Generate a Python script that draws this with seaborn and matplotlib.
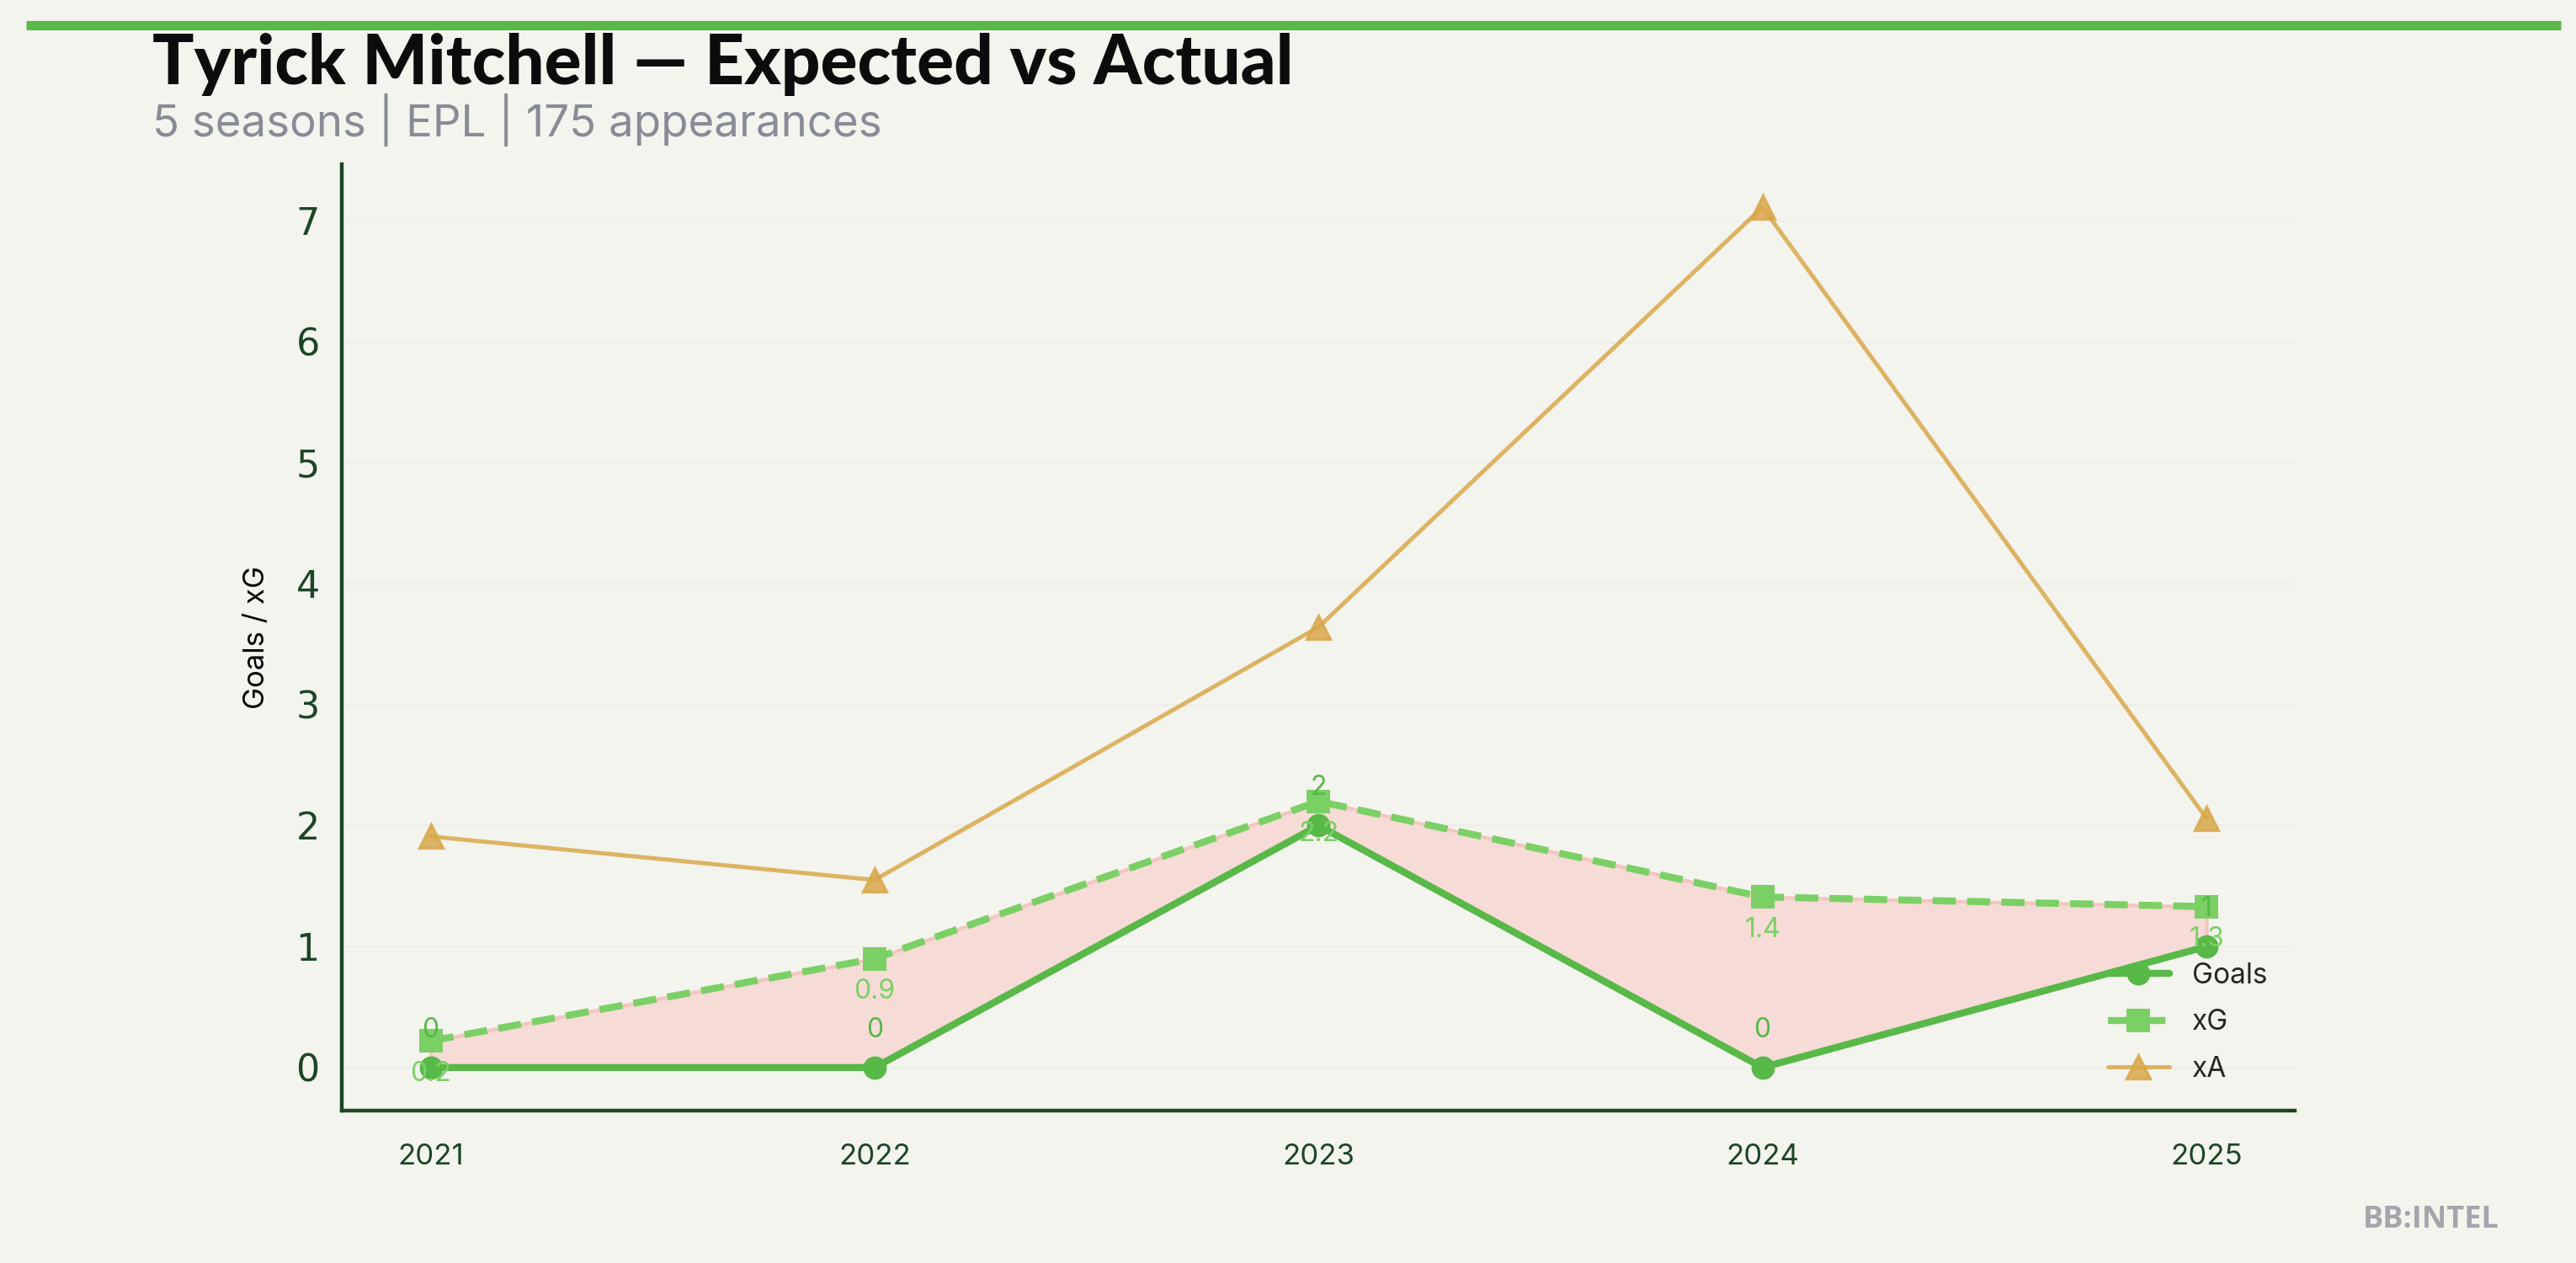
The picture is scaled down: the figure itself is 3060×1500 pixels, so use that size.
import numpy as np
import pandas as pd
import matplotlib
matplotlib.use('Agg')
import matplotlib.pyplot as plt
from matplotlib.lines import Line2D
import seaborn as sns

# data
seasons = [2021, 2022, 2023, 2024, 2025]
goals = [0, 0, 2, 0, 1]
xg = [0.22, 0.90, 2.20, 1.41, 1.33]
xa = [1.91, 1.55, 3.64, 7.11, 2.06]
goal_labels = ['0', '0', '2', '0', '1']
xg_labels = ['0.2', '0.9', '2.2', '1.4', '1.3']

title = 'Tyrick Mitchell \u2014 Expected vs Actual'
subtitle = '5 seasons | EPL | 175 appearances'

BG = '#f4f4ef'
C_GOALS = '#58b848'
C_XG = '#7bd065'
C_XA = '#d9a84a'
DARK = '#1c4626'

sns.set_theme(style='white')
plt.rcParams['font.family'] = ['Inter', 'DejaVu Sans']

fig = plt.figure(figsize=(15.3, 7.5), dpi=200, facecolor=BG)
ax = fig.add_axes([0.1327, 0.1207, 0.7583, 0.7493])
ax.set_facecolor(BG)

df = pd.DataFrame({'Season': seasons, 'Goals': goals, 'xG': xg, 'xA': xa})

# fill between goals and xG
ax.fill_between(df['Season'], df['Goals'], df['xG'], facecolor='#f6dbd6',
                linewidth=1.5, edgecolor='#f3c6bf', zorder=1)

sns.lineplot(data=df, x='Season', y='Goals', ax=ax, color=C_GOALS, marker='o',
             markersize=10, linewidth=3, markeredgewidth=0, label='Goals', zorder=4)
sns.lineplot(data=df, x='Season', y='xG', ax=ax, color=C_XG, marker='s',
             markersize=10, linewidth=3, markeredgewidth=0, label='xG', zorder=3)
ax.lines[-1].set_linestyle((0, (3.3, 1.6)))
sns.lineplot(data=df, x='Season', y='xA', ax=ax, color=C_XA, marker='^',
             markersize=10, linewidth=1.8, alpha=0.85, markeredgewidth=1.2,
             markeredgecolor=C_XA, label='xA', zorder=2)

for s, g, lab in zip(seasons, goals, goal_labels):
    ax.annotate(lab, (s, g), xytext=(0, 16), textcoords='offset points',
                ha='center', va='center', fontsize=11.5, color=C_GOALS, zorder=6)
for s, v, lab in zip(seasons, xg, xg_labels):
    ax.annotate(lab, (s, v), xytext=(0, -14), textcoords='offset points',
                ha='center', va='center', fontsize=11.5, color=C_XG, zorder=6)

ax.set_xticks(seasons)
ax.set_xticklabels([str(s) for s in seasons], fontsize=12.5, color=DARK)
ax.set_yticks(range(0, 8))
ax.set_yticklabels([str(i) for i in range(0, 8)], fontsize=16, color=DARK,
                   family='DejaVu Sans')
ax.set_xlabel('')
ax.set_ylabel('Goals / xG', fontsize=12.5, color='black', labelpad=11)
ax.tick_params(axis='both', length=6, width=1.5, color=DARK, direction='out')
ax.tick_params(axis='x', pad=8)

ax.grid(axis='y', color='#efefe9', linewidth=1)
ax.set_axisbelow(True)
for side in ['top', 'right']:
    ax.spines[side].set_visible(False)
for side in ['left', 'bottom']:
    ax.spines[side].set_color(DARK)
    ax.spines[side].set_linewidth(1.6)

leg = ax.legend(loc='lower right', frameon=False, fontsize=12,
                handlelength=2.2, borderaxespad=0.6, labelspacing=0.7)

# header
fig.add_artist(Line2D([0.01, 0.994], [0.98, 0.98], color=C_GOALS, linewidth=4,
                      transform=fig.transFigure, solid_capstyle='butt'))
fig.text(0.059, 0.949, title, fontsize=29.5, fontweight='black', color='#0c0c0c',
         family=['Lato', 'DejaVu Sans'], va='center', ha='left')
fig.text(0.059, 0.905, subtitle, fontsize=19, color='#878c96', va='center', ha='left')
fig.text(0.97, 0.034, 'BB:INTEL', fontsize=13, fontweight='bold', color='#a3a6ab',
         family=['Open Sans', 'DejaVu Sans'], va='center', ha='right')

fig.savefig('out.png', dpi=200, facecolor=BG)
